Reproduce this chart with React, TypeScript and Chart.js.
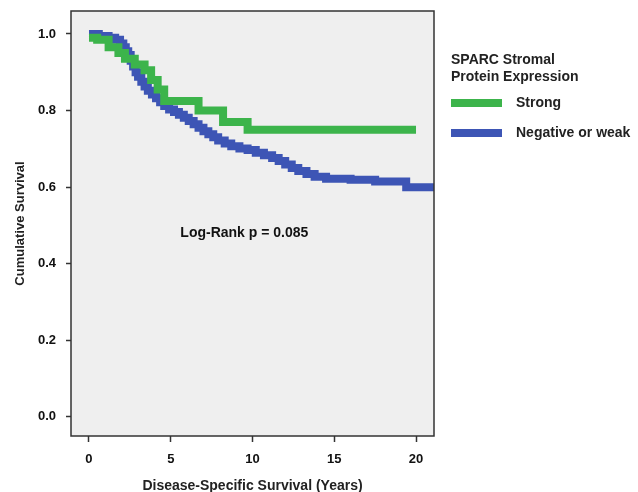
import { useEffect, useRef } from "react";
import { Chart, registerables } from "chart.js";

Chart.register(...registerables);

// Kaplan-Meier step data (time in years, cumulative survival after the step)
const strongTimes = [0, 0.5, 1.2, 1.8, 2.2, 2.8, 3.4, 3.8, 4.2, 4.6, 6.7, 8.2, 9.7, 20.0];
const strongSurvival = [0.99, 0.985, 0.965, 0.95, 0.935, 0.92, 0.905, 0.88, 0.855, 0.825, 0.80, 0.77, 0.75, 0.75];

const weakTimes = [0, 0.6, 1.2, 1.6, 1.9, 2.1, 2.25, 2.4, 2.55, 2.7, 2.85, 3.0, 3.2, 3.4, 3.6, 3.85, 4.1, 4.35, 4.6, 4.9, 5.2, 5.5, 5.8, 6.1, 6.4, 6.7, 7.0, 7.3, 7.6, 7.9, 8.3, 8.7, 9.2, 9.7, 10.2, 10.7, 11.2, 11.6, 12.0, 12.4, 12.8, 13.3, 13.8, 14.5, 16.0, 17.5, 19.4, 21.2];
const weakSurvival = [1.0, 0.995, 0.99, 0.985, 0.975, 0.965, 0.955, 0.945, 0.93, 0.915, 0.9, 0.888, 0.875, 0.863, 0.852, 0.842, 0.832, 0.822, 0.812, 0.803, 0.796, 0.789, 0.781, 0.773, 0.764, 0.755, 0.746, 0.738, 0.73, 0.722, 0.714, 0.707, 0.701, 0.697, 0.69, 0.683, 0.676, 0.668, 0.659, 0.65, 0.642, 0.634, 0.627, 0.622, 0.619, 0.615, 0.6, 0.6];

const seriesLabels = ["Strong", "Negative or weak"];
const seriesColors = ["#3cb44b", "#3d55b5"];
const xTicks = [0, 5, 10, 15, 20];
const yTicks = [0, 0.2, 0.4, 0.6, 0.8, 1.0];
const legendTitle = ["SPARC Stromal", "Protein Expression"];
const annotationText = "Log-Rank p = 0.085";
const annotationAt = { x: 9.5, y: 0.48 };
const xTitle = "Disease-Specific Survival (Years)";
const yTitle = "Cumulative Survival";

const FONT = "'Liberation Sans', Arial, Helvetica, sans-serif";

const framePlugin = {
  id: "frame",
  beforeDraw(chart: any) {
    const { ctx, chartArea: a, width, height } = chart;
    ctx.save();
    ctx.fillStyle = "#ffffff";
    ctx.fillRect(0, 0, width, height);
    ctx.fillStyle = "#efefef";
    ctx.fillRect(a.left, a.top, a.right - a.left, a.bottom - a.top);
    ctx.restore();
  },
  afterDraw(chart: any) {
    const { ctx, chartArea: a, scales } = chart;
    ctx.save();
    ctx.strokeStyle = "#333333";
    ctx.lineWidth = 1.5;
    ctx.strokeRect(a.left, a.top, a.right - a.left, a.bottom - a.top);

    // annotation
    ctx.fillStyle = "#111111";
    ctx.font = `bold 14px ${FONT}`;
    ctx.textAlign = "center";
    ctx.textBaseline = "middle";
    ctx.fillText(annotationText, scales.x.getPixelForValue(annotationAt.x), scales.y.getPixelForValue(annotationAt.y));

    // legend
    const lx = a.right + 17;
    ctx.textAlign = "left";
    ctx.font = `bold 14px ${FONT}`;
    ctx.fillStyle = "#222222";
    legendTitle.forEach((t, i) => ctx.fillText(t, lx, 60 + i * 17));
    chart.data.datasets.forEach((ds: any, i: number) => {
      const y = 103 + i * 30;
      ctx.fillStyle = ds.borderColor;
      ctx.fillRect(lx, y - 4, 51, 8);
      ctx.fillStyle = "#222222";
      ctx.fillText(ds.label, lx + 65, y);
    });
    ctx.restore();
  },
};

export default function App() {
  const ref = useRef<HTMLCanvasElement | null>(null);

  useEffect(() => {
    if (!ref.current) return;
    Chart.defaults.font.family = FONT;
    const toPts = (ts: number[], ss: number[]) => ts.map((t, i) => ({ x: t, y: ss[i] }));
    const chart = new Chart(ref.current, {
      type: "line",
      data: {
        datasets: [
          {
            label: seriesLabels[0],
            data: toPts(strongTimes, strongSurvival),
            borderColor: seriesColors[0],
            backgroundColor: seriesColors[0],
            borderWidth: 8,
            stepped: true,
            pointRadius: 0,
            borderJoinStyle: "miter",
          },
          {
            label: seriesLabels[1],
            data: toPts(weakTimes, weakSurvival),
            borderColor: seriesColors[1],
            backgroundColor: seriesColors[1],
            borderWidth: 8,
            stepped: true,
            pointRadius: 0,
            borderJoinStyle: "miter",
          },
        ],
      },
      options: {
        animation: false,
        responsive: false,
        layout: { padding: { left: 0, top: 11, right: 204, bottom: 0 } },
        plugins: { legend: { display: false }, tooltip: { enabled: false } },
        scales: {
          x: {
            type: "linear",
            min: -1.1,
            max: 21.1,
            afterBuildTicks: (s: any) => { s.ticks = xTicks.map((v) => ({ value: v })); },
            afterFit: (s: any) => { s.height = 56; s.paddingLeft = 0; s.paddingRight = 0; },
            grid: { display: true, drawOnChartArea: false, drawTicks: true, tickLength: 6, tickColor: "#333333", tickWidth: 1.5 },
            border: { display: false },
            ticks: { color: "#111111", font: { size: 13, weight: "bold" }, padding: 10, maxRotation: 0 },
            title: { display: true, text: xTitle, color: "#222222", font: { size: 14, weight: "bold" }, padding: { top: 0, bottom: -3 } },
          },
          y: {
            type: "linear",
            min: -0.05,
            max: 1.06,
            afterBuildTicks: (s: any) => { s.ticks = yTicks.map((v) => ({ value: v })); },
            afterFit: (s: any) => { s.width = 71; s.paddingTop = 0; s.paddingBottom = 0; },
            grid: { display: true, drawOnChartArea: false, drawTicks: true, tickLength: 5, tickColor: "#333333", tickWidth: 1.5 },
            border: { display: false },
            ticks: { color: "#111111", font: { size: 13, weight: "bold" }, padding: 10, callback: (v: any) => Number(v).toFixed(1) },
            title: { display: true, text: yTitle, color: "#222222", font: { size: 13, weight: "bold" }, padding: { top: 13, bottom: 0 } },
          },
        },
      },
      plugins: [framePlugin],
    } as any);
    return () => chart.destroy();
  }, []);

  return (
    <div style={{ position: "fixed", left: 0, top: 0, width: 638, height: 492, background: "#fff" }}>
      <canvas ref={ref} width={638} height={492} style={{ width: 638, height: 492, display: "block" }} />
    </div>
  );
}
